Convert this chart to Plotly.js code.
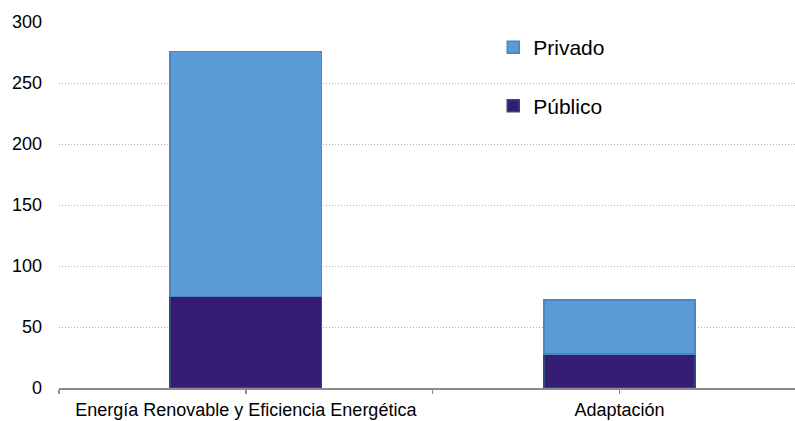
<!DOCTYPE html>
<html>
<head>
<meta charset="utf-8">
<script src="https://cdn.plot.ly/plotly-3.0.1.min.js"></script>
<style>html,body{margin:0;padding:0;background:#fff;}#chart{width:795px;height:421px;}</style>
</head>
<body>
<div id="chart"></div>
<script>
var categories = ["Energía Renovable y Eficiencia Energética", "Adaptación"];
var publico = [75, 28];
var privado = [201, 44];
var yTicks = [0, 50, 100, 150, 200, 250, 300];

var traces = [
  {
    type: "bar", name: "Público", x: categories, y: publico, width: 0.405,
    marker: {color: "#371C73", line: {color: "#2E4A78", width: 1.5}},
    legend: "legend2", hoverinfo: "none"
  },
  {
    type: "bar", name: "Privado", x: categories, y: privado, width: 0.405,
    marker: {color: "#5B9BD5", line: {color: "#4A86C5", width: 1.5}},
    legend: "legend", hoverinfo: "none"
  }
];

var layout = {
  width: 795, height: 421,
  margin: {l: 59, r: 0, t: 22, b: 33},
  barmode: "stack",
  paper_bgcolor: "#ffffff", plot_bgcolor: "#ffffff",
  font: {family: "Liberation Sans, Arial, sans-serif", color: "#000000", size: 18},
  showlegend: true,
  legend: {x: 0.59, y: 0.93, xanchor: "left", yanchor: "middle", bgcolor: "rgba(0,0,0,0)",
           font: {size: 21}, itemwidth: 30, traceorder: "normal"},
  legend2: {x: 0.59, y: 0.77, xanchor: "left", yanchor: "middle", bgcolor: "rgba(0,0,0,0)",
           font: {size: 21}, itemwidth: 30},
  xaxis: {
    type: "category", range: [-0.5, 1.47],
    tickmode: "array", tickvals: [-0.5, 0, 0.5, 1],
    ticktext: ["", categories[0], "", categories[1]],
    ticks: "outside", ticklen: 4, tickwidth: 1.5, tickcolor: "#8c8c8c",
    showline: true, linecolor: "#8c8c8c", linewidth: 2,
    showgrid: false, zeroline: false, tickfont: {size: 18}
  },
  yaxis: {
    range: [0, 300], tickmode: "array", tickvals: yTicks,
    showgrid: true, gridcolor: "#b0b0b0", griddash: "1px,2px", gridwidth: 1,
    zeroline: false, showline: false, ticks: "", ticklabelstandoff: 16,
    tickfont: {size: 18}
  }
};

Plotly.newPlot("chart", traces, layout, {staticPlot: true, displayModeBar: false});
</script>
</body>
</html>
